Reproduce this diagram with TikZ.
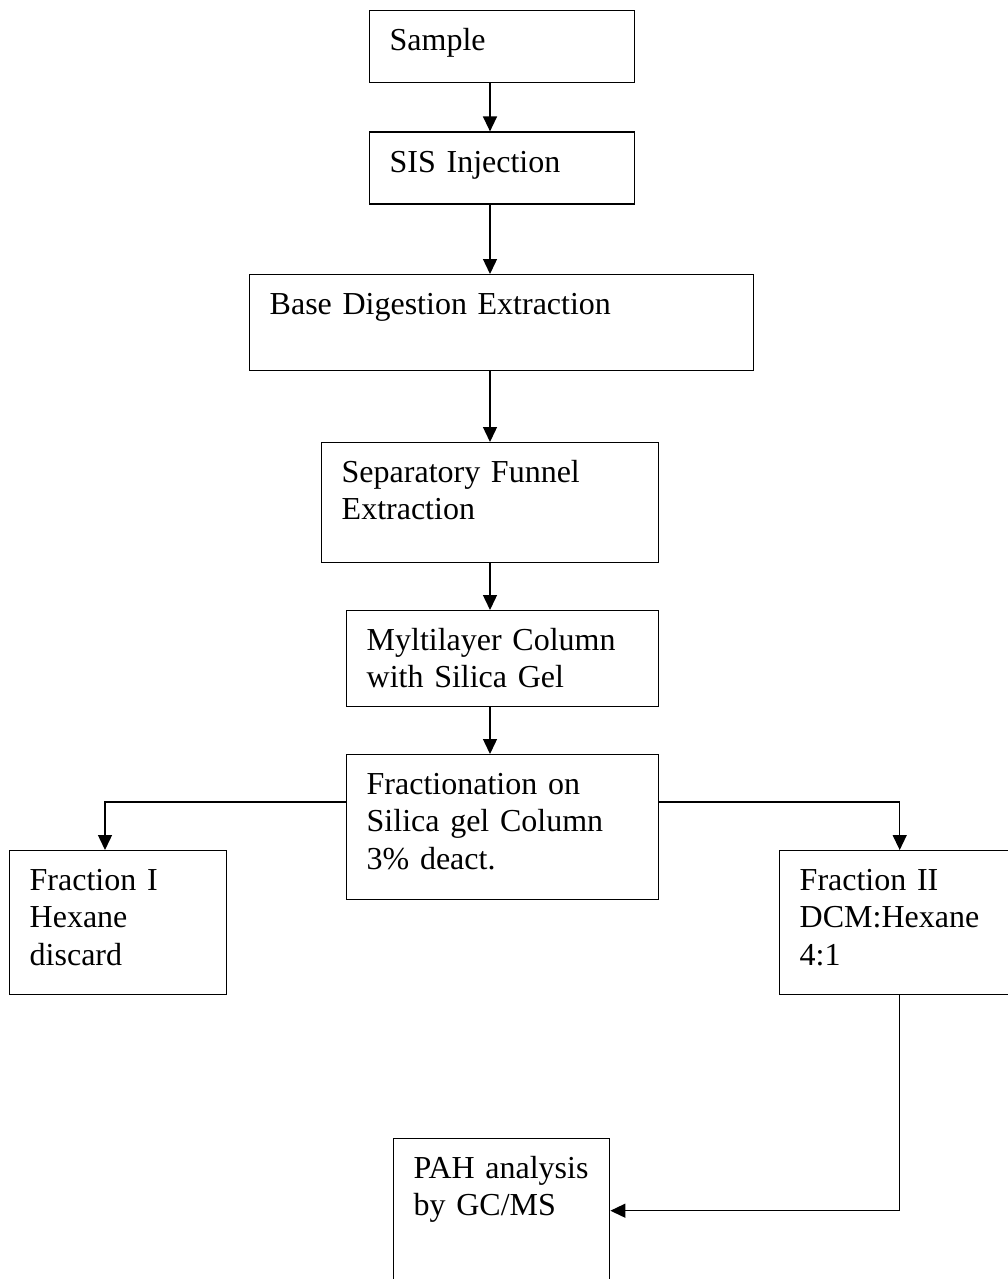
\documentclass[tikz,border=0pt]{standalone}
\usepackage{fontspec}
\setmainfont{Liberation Serif}
\usetikzlibrary{arrows.meta, positioning}
\hyphenpenalty=10000

\begin{document}
\begin{tikzpicture}[
  x=0.5pt, y=-0.5pt,
  stepbox/.style={draw, rectangle, line width=0.7pt, anchor=north west, align=left, inner xsep=10pt, inner ysep=0pt, text height=20pt, font=\fontsize{16}{18.6}\selectfont},
  arrow/.style={line width=0.7pt, -{Triangle[length=7.5pt, width=7pt]}}
]
\useasboundingbox (0,0) rectangle (1007,1279);

% Main column
\node[stepbox, text width=112.5pt, text depth=16pt] (sample) at (369,10) {Sample};
\node[stepbox, text width=112.5pt, text depth=16pt, below=24pt of sample] (sis) {SIS Injection};
\node[stepbox, text width=232pt, text depth=28pt] (base) at (249,274) {Base Digestion Extraction};
\node[stepbox, text width=148.5pt, text depth=40pt] (sepfunnel) at (321,442) {Separatory Funnel\\Extraction};
\node[stepbox, text width=136pt, text depth=28pt] (multilayer) at (346,610) {Myltilayer Column\\with Silica Gel};
\node[stepbox, text width=136pt, text depth=52.5pt] (fractionation) at (346,754) {Fractionation on\\Silica gel Column\\3\% deact.};

% Fractions
\node[stepbox, text width=88.5pt, text depth=52pt] (fraction1) at (9,850) {Fraction I\\Hexane\\discard};
\node[stepbox, text width=100pt, text depth=52pt] (fraction2) at (779,850) {Fraction II\\DCM:Hexane\\4:1};

% Analysis
\node[stepbox, text width=88pt, text depth=52pt] (pah) at (393,1138) {PAH analysis\\by GC/MS};

% Guide lines for the arrows
\coordinate (mainline) at (490,802);
\coordinate (leftline) at (105,802);

% Main flow
\draw[arrow] (sample.south -| mainline) -- (sis.north -| mainline);
\draw[arrow] (sis.south -| mainline) -- (base.north -| mainline);
\draw[arrow] (base.south -| mainline) -- (sepfunnel.north -| mainline);
\draw[arrow] (sepfunnel.south -| mainline) -- (multilayer.north -| mainline);
\draw[arrow] (multilayer.south -| mainline) -- (fractionation.north -| mainline);

% Split into fractions
\draw[arrow] (fractionation.west |- leftline) -| (fraction1.north -| leftline);
\draw[arrow] (fractionation.east |- leftline) -| (fraction2.north);
\draw[arrow] (fraction2.south) |- (pah.east);

\end{tikzpicture}
\end{document}
